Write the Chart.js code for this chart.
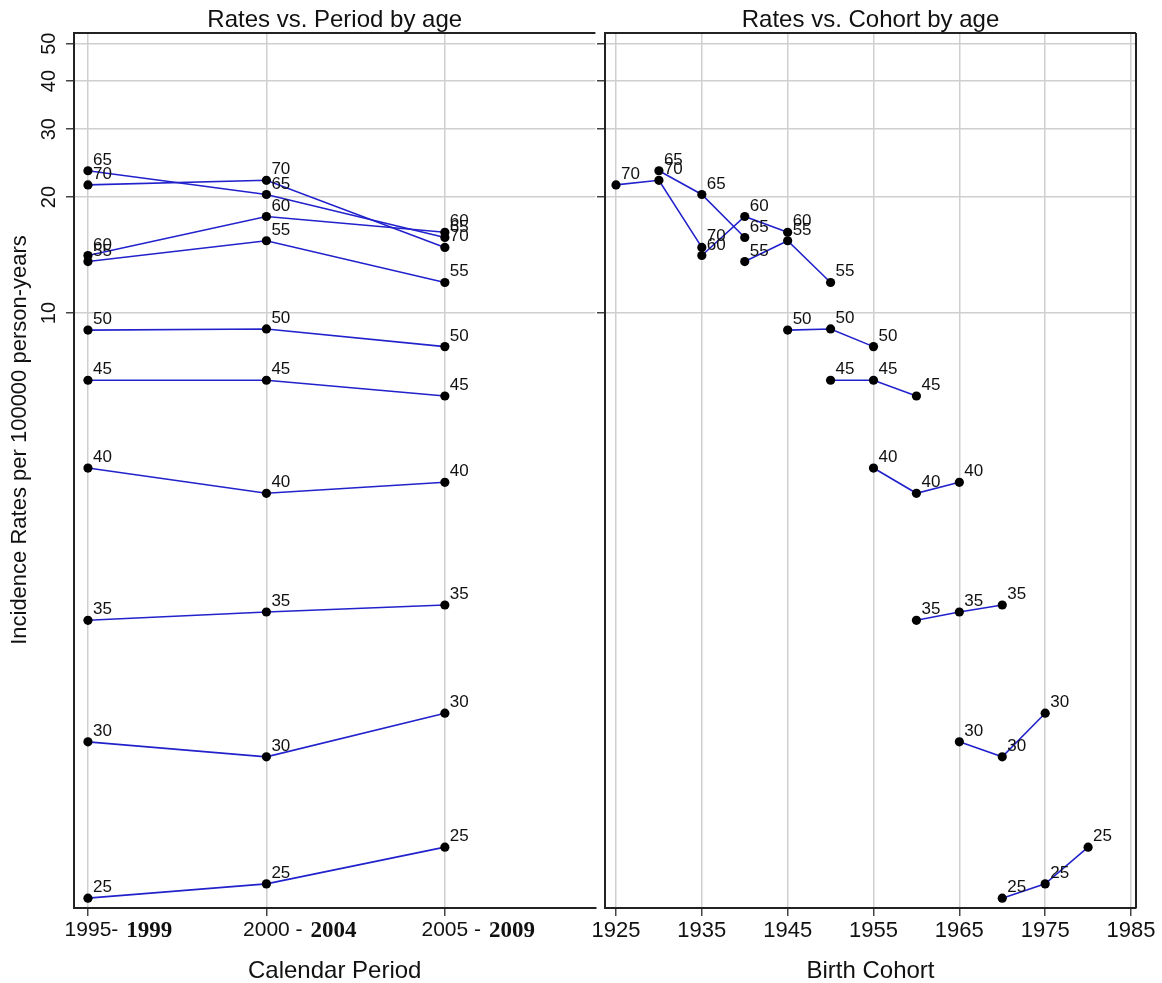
<!DOCTYPE html>
<html><head><meta charset="utf-8">
<script src="https://cdn.jsdelivr.net/npm/chart.js@4.4.1/dist/chart.umd.min.js"></script>
<style>
html,body{margin:0;padding:0;background:#fff;width:1162px;height:983px;overflow:hidden}
#cl{position:absolute;left:0;top:0}
#cr{position:absolute;left:572px;top:0}
</style></head><body>
<canvas id="cl" width="600" height="983"></canvas>
<canvas id="cr" width="590" height="983"></canvas>
<script>
// ---- data ----
const ages = [25, 30, 35, 40, 45, 50, 55, 60, 65, 70];
const periodLabels = ['1995- 1999', '2000 - 2004', '2005 - 2009'];
const periodStart = [1995, 2000, 2005];
const periodMid = [1997, 2002, 2007];
const ratesP1 = [0.303, 0.771, 1.594, 3.96, 6.69, 9.03, 13.6, 14.1, 23.4, 21.5];
const ratesP2 = [0.330, 0.705, 1.675, 3.405, 6.69, 9.09, 15.4, 17.8, 20.3, 22.1];
const ratesP3 = [0.411, 0.915, 1.747, 3.636, 6.09, 8.18, 12.0, 16.2, 15.7, 14.8];
const yTicks = [10, 20, 30, 40, 50];
const cohortTicks = [1925, 1935, 1945, 1955, 1965, 1975, 1985];
const leftTitle = 'Rates vs. Period by age';
const rightTitle = 'Rates vs. Cohort by age';
const yTitle = 'Incidence Rates per 100000 person-years';
const leftXTitle = 'Calendar Period';
const rightXTitle = 'Birth Cohort';

const periodRates = [ratesP1, ratesP2, ratesP3];
const FONT = "'Liberation Sans', Arial, sans-serif";
const SERIF = "'Liberation Serif', 'Times New Roman', serif";
const LINE = '#2222cc';
const GRID = '#cfcfcf';
const AX = '#222';

function lineDs(label, data) {
  return {
    label: String(label), data,
    borderColor: LINE, borderWidth: 1.6,
    pointRadius: 4.6, pointBackgroundColor: '#000', pointBorderColor: '#000', pointBorderWidth: 0,
    tension: 0, fill: false
  };
}
const leftDatasets = ages.map((a, i) => lineDs(a, periodMid.map((m, j) => ({x: m, y: periodRates[j][i]}))));
const rightDatasets = ages.map((a, i) => lineDs(a, periodStart.map((ps, j) => ({x: ps - a, y: periodRates[j][i]}))));

const labelPlugin = {
  id: 'ptlabels',
  afterDatasetsDraw(chart) {
    const ctx = chart.ctx;
    ctx.save();
    ctx.font = '17px ' + FONT;
    ctx.fillStyle = '#111';
    ctx.textAlign = 'left';
    ctx.textBaseline = 'alphabetic';
    chart.data.datasets.forEach((ds, i) => {
      chart.getDatasetMeta(i).data.forEach(p => ctx.fillText(ds.label, p.x + 5, p.y - 6));
    });
    ctx.restore();
  }
};

function framePlugin(title, rightBorder) {
  return {
    id: 'frame',
    afterDraw(chart) {
      const ctx = chart.ctx, ca = chart.chartArea;
      ctx.save();
      ctx.strokeStyle = AX; ctx.lineWidth = 2;
      ctx.beginPath();
      ctx.moveTo(ca.left, ca.top); ctx.lineTo(ca.right, ca.top);
      if (rightBorder) { ctx.moveTo(ca.right, ca.top); ctx.lineTo(ca.right, ca.bottom); }
      ctx.stroke();
      ctx.fillStyle = '#111';
      ctx.font = '24px ' + FONT;
      ctx.textAlign = 'center'; ctx.textBaseline = 'middle';
      ctx.fillText(title, (ca.left + ca.right) / 2, 20);
      ctx.restore();
    }
  };
}

const leftAxisPlugin = {
  id: 'leftaxis',
  afterDraw(chart) {
    const ctx = chart.ctx, ys = chart.scales.y, xs = chart.scales.x;
    ctx.save();
    ctx.fillStyle = '#111';
    ctx.font = '20px ' + FONT;
    ctx.textAlign = 'center'; ctx.textBaseline = 'middle';
    yTicks.forEach(v => {
      ctx.save();
      ctx.translate(49, ys.getPixelForValue(v));
      ctx.rotate(-Math.PI / 2);
      ctx.fillText(String(v), 0, 0);
      ctx.restore();
    });
    // x tick labels: first year centred on the tick, second year in a serif bold face
    ctx.textAlign = 'left'; ctx.textBaseline = 'middle';
    periodLabels.forEach((lab, j) => {
      const m = lab.match(/^(\d{4}\s*-\s*)(\d{4})$/);
      const px = xs.getPixelForValue(periodMid[j]);
      ctx.font = '21px ' + FONT;
      const wYear = ctx.measureText(m[1].slice(0, 4)).width;
      const w1 = ctx.measureText(m[1]).width + 2;
      const x0 = px - wYear / 2;
      ctx.fillText(m[1], x0, 930);
      ctx.font = 'bold 23px ' + SERIF;
      ctx.fillText(m[2], x0 + w1, 931);
    });
    ctx.font = '22px ' + FONT;
    ctx.textAlign = 'center';
    ctx.translate(20, 440);
    ctx.rotate(-Math.PI / 2);
    ctx.fillText(yTitle, 0, 0);
    ctx.restore();
  }
};

function yScale(width) {
  return {
    type: 'logarithmic', min: 0.2857, max: 53.29,
    afterBuildTicks: s => { s.ticks = yTicks.map(v => ({value: v})); },
    afterFit: s => { s.width = width; },
    ticks: {display: false},
    grid: {color: GRID, lineWidth: 1.5, tickLength: 8, tickColor: '#444', drawTicks: true},
    border: {display: true, color: AX, width: 2}
  };
}
function xScale(min, max, tickVals, showTicks, title) {
  return {
    type: 'linear', min, max,
    afterBuildTicks: s => { s.ticks = tickVals.map(v => ({value: v})); },
    afterFit: s => { s.height = 75; s.paddingLeft = 0; s.paddingRight = 0; },
    ticks: {display: showTicks, callback: v => String(v), autoSkip: false, maxRotation: 0, minRotation: 0,
            font: {family: FONT, size: 22}, color: '#111', padding: 2},
    grid: {color: GRID, lineWidth: 1.5, tickLength: 8, tickColor: '#444', drawTicks: true},
    border: {display: true, color: AX, width: 2},
    title: {display: true, text: title, font: {family: FONT, size: 24, lineHeight: 1}, color: '#111', padding: {top: 0, bottom: 0}}
  };
}

const common = {
  responsive: false, animation: false, devicePixelRatio: 1,
  plugins: {legend: {display: false}, tooltip: {enabled: false}, title: {display: false}}
};

new Chart(document.getElementById('cl'), {
  type: 'line',
  data: {datasets: leftDatasets},
  options: Object.assign({}, common, {
    layout: {padding: {top: 33, right: 3, left: 0, bottom: 0}},
    scales: {
      x: xScale(1996.609, 2011.218, periodMid, false, leftXTitle),
      y: yScale(74)
    }
  }),
  plugins: [labelPlugin, framePlugin(leftTitle, false), leftAxisPlugin]
});

new Chart(document.getElementById('cr'), {
  type: 'line',
  data: {datasets: rightDatasets},
  options: Object.assign({}, common, {
    layout: {padding: {top: 33, right: 26, left: 0, bottom: 0}},
    scales: {
      x: xScale(1923.72, 1985.58, cohortTicks, true, rightXTitle),
      y: yScale(33)
    }
  }),
  plugins: [labelPlugin, framePlugin(rightTitle, true)]
});
</script>
</body></html>
